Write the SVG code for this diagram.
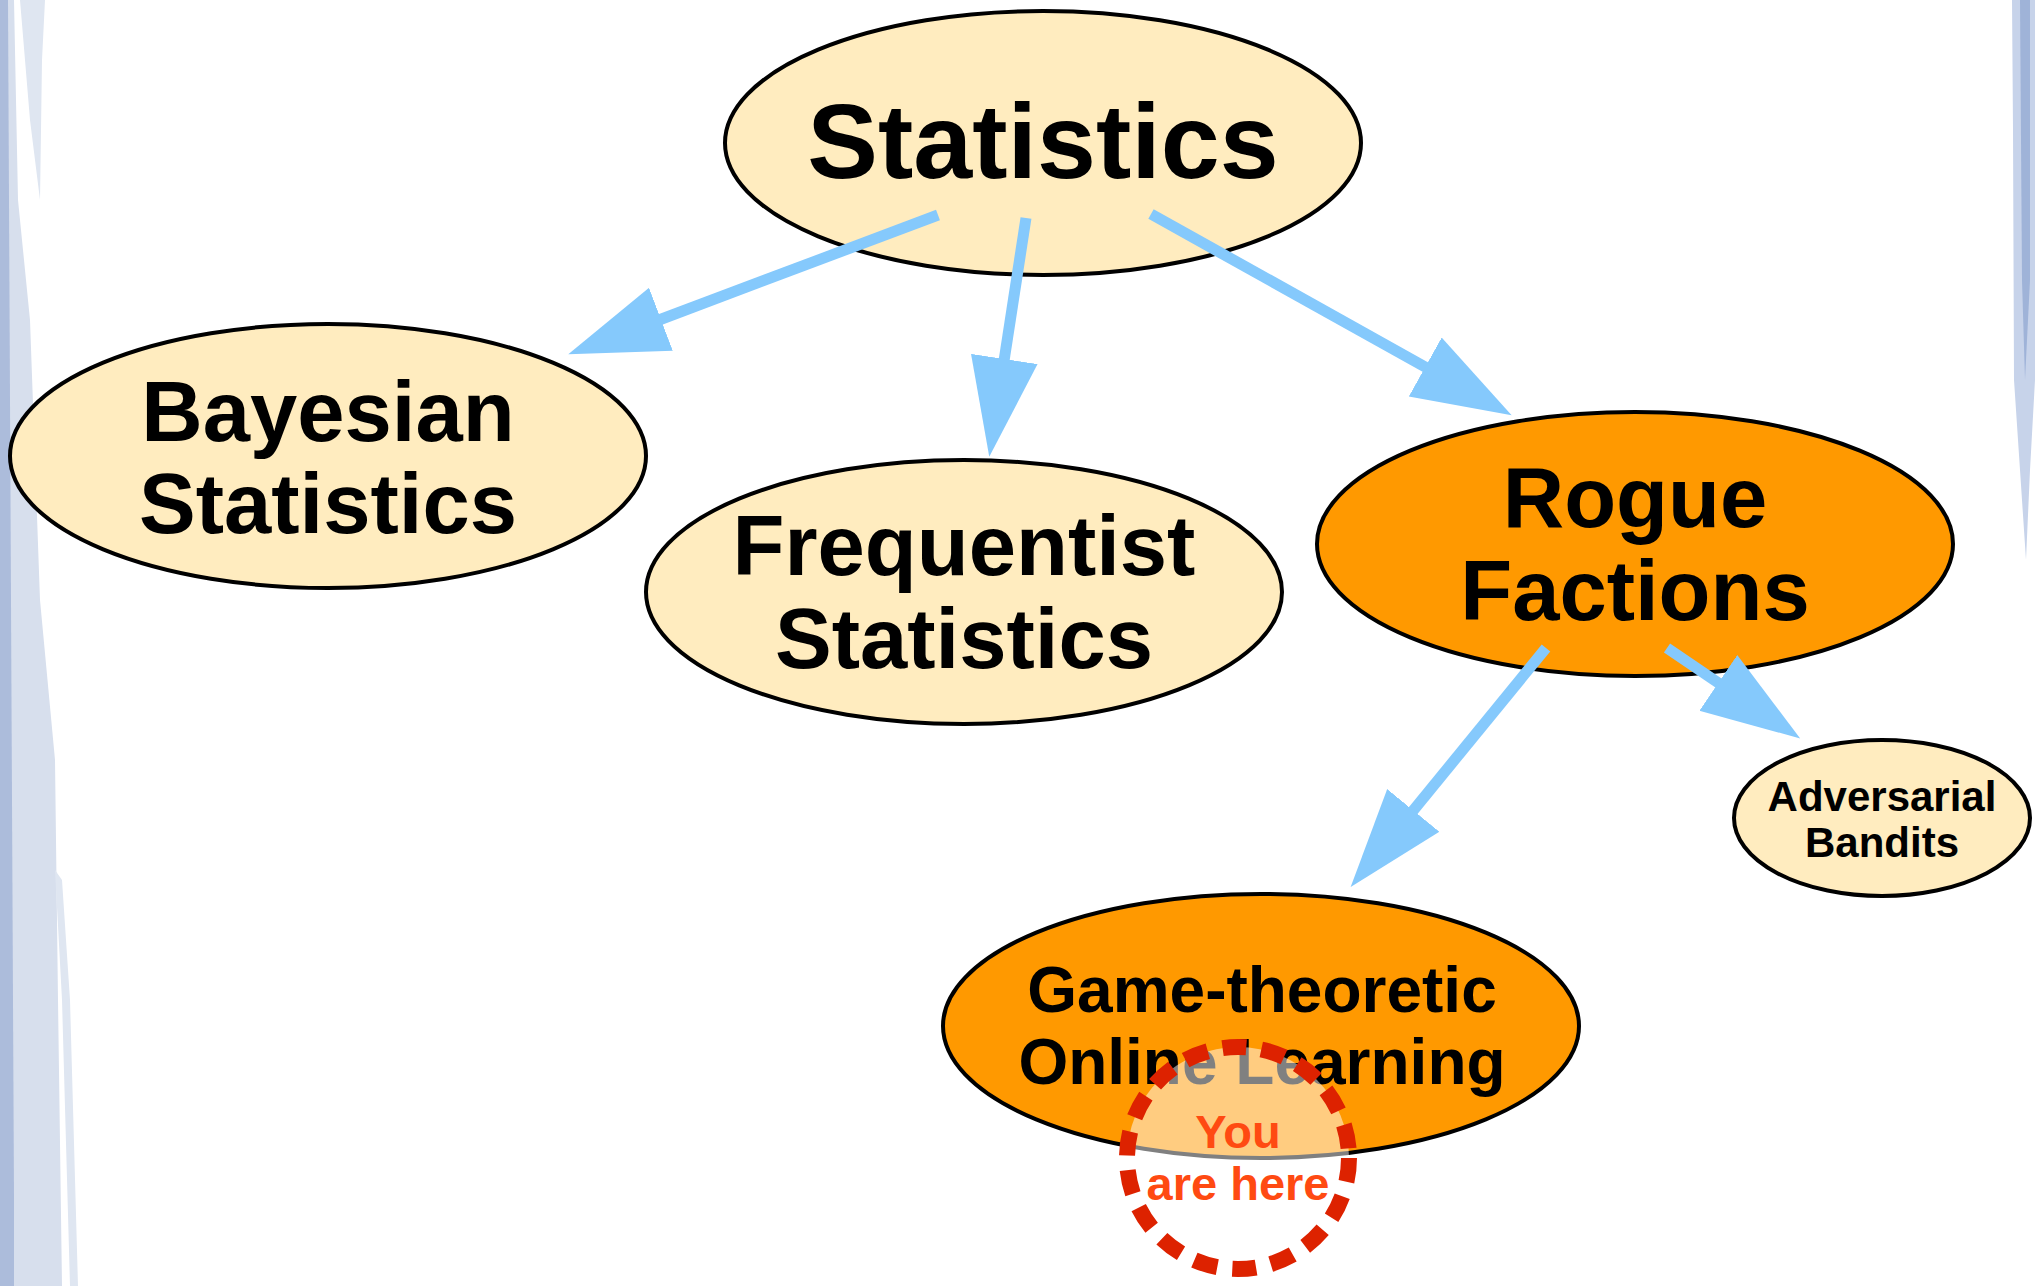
<svg xmlns="http://www.w3.org/2000/svg" width="2035" height="1286" viewBox="0 0 2035 1286">
<defs>
<style>
.node{stroke:#000;stroke-width:4}
.light{fill:#ffecbf}
.orange{fill:#ff9900}
.t{font-family:"Liberation Sans",Arial,sans-serif;font-weight:bold;fill:#000;text-anchor:middle}
.edge{stroke:#85c9fc;stroke-width:11;fill:none;marker-end:url(#ah)}
</style>
<marker id="ah" markerUnits="userSpaceOnUse" markerWidth="100" markerHeight="70" viewBox="0 0 98 66" refX="2" refY="33" orient="auto">
<path d="M0,0 L97,33 L0,66 z" fill="#85c9fc"/>
</marker>
</defs>
<rect width="2035" height="1286" fill="#fff"/>
<g id="background">
<polygon points="0,0 14,0 18,200 30,320 40,600 55,760 58,1000 62,1286 0,1286" fill="#d7dfed"/>
<polygon points="20,0 45,0 42,60 40,200 30,120" fill="#dfe6f1"/>
<polygon points="55,870 62,880 70,1000 78,1286 70,1286 62,1000" fill="#dfe6f1"/>
<polygon points="0,0 8,0 10,400 12,800 14,1200 14,1286 0,1286" fill="#acbcdb"/>
<polygon points="2012,0 2035,0 2035,380 2030,470 2026,560 2020,470 2014,380 2013,130" fill="#c7d3ea"/>
<polygon points="2020,0 2030,0 2030,280 2025,380 2022,280" fill="#9fb3d8"/>
</g>
<g id="statistics">
<ellipse class="node light" cx="1043" cy="143" rx="318" ry="132"/>
<text class="t" x="1043" y="178" font-size="106">Statistics</text>
</g>
<g id="bayesian">
<ellipse class="node light" cx="328" cy="456" rx="318" ry="132"/>
<text class="t" x="328" y="441" font-size="85">Bayesian</text>
<text class="t" x="328" y="533" font-size="85">Statistics</text>
</g>
<g id="frequentist">
<ellipse class="node light" cx="964" cy="592" rx="318" ry="132"/>
<text class="t" x="964" y="575" font-size="85">Frequentist</text>
<text class="t" x="964" y="668" font-size="85">Statistics</text>
</g>
<g id="rogue">
<ellipse class="node orange" cx="1635" cy="544" rx="318" ry="132"/>
<text class="t" x="1635" y="527" font-size="85">Rogue</text>
<text class="t" x="1635" y="620" font-size="85">Factions</text>
</g>
<g id="game">
<ellipse class="node orange" cx="1261" cy="1026" rx="318" ry="132"/>
<text class="t" x="1262" y="1012" font-size="64">Game-theoretic</text>
<text class="t" x="1262" y="1084" font-size="64">Online Learning</text>
</g>
<g id="adversarial">
<ellipse class="node light" cx="1882" cy="818" rx="148" ry="78"/>
<text class="t" x="1882" y="811" font-size="42">Adversarial</text>
<text class="t" x="1882" y="857" font-size="42">Bandits</text>
</g>
<g id="connectors">
<line class="edge" x1="938" y1="215" x2="659" y2="320"/>
<line class="edge" x1="1026" y1="218" x2="1004" y2="361"/>
<line class="edge" x1="1151" y1="214" x2="1427" y2="368"/>
<line class="edge" x1="1546" y1="648" x2="1412" y2="812"/>
<line class="edge" x1="1667" y1="648" x2="1720" y2="684"/>
</g>
<g id="you-are-here">
<circle cx="1238" cy="1158" r="111" fill="#fff" fill-opacity="0.5" stroke="#dd2200" stroke-width="16" stroke-dasharray="24 15"/>
<text class="t" x="1238" y="1148" font-size="47" style="fill:#ff4a12">You</text>
<text class="t" x="1238" y="1200" font-size="47" style="fill:#ff4a12">are here</text>
</g>
</svg>
